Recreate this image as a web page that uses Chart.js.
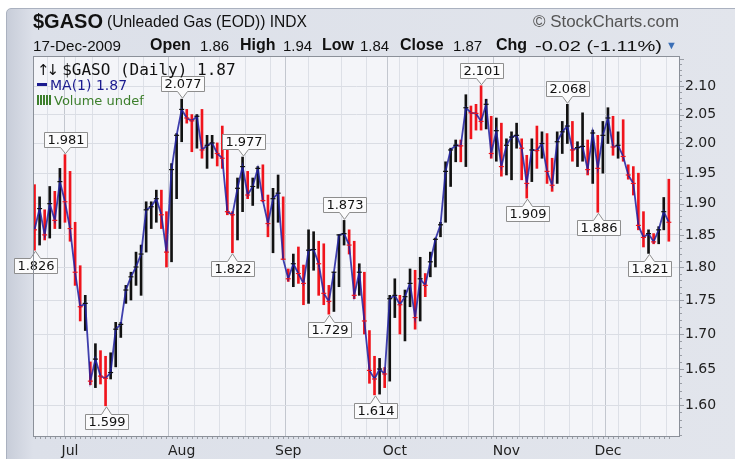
<!DOCTYPE html>
<html>
<head>
<meta charset="utf-8">
<script src="https://cdn.jsdelivr.net/npm/chart.js@4.4.1/dist/chart.umd.min.js"></script>
<style>
  body { margin: 0; background: #fff; }
  #wrap {
    position: relative; width: 735px; height: 459px; overflow: hidden; background: #fff;
    font-family: "Liberation Sans", Arial, sans-serif; color: #111;
  }
  #panel {
    position: absolute; left: 6px; top: 8px; width: 740px; height: 460px;
    border: 1px solid #aab1bf; border-radius: 5px 0 0 0;
    background: linear-gradient(90deg, #c8cdd9 0px, #dce0e9 26px, #e2e5ec 100%);
  }
  #chart { position: absolute; left: 0; top: 0; }
  .t { position: absolute; white-space: nowrap; transform-origin: 0 0; }
  .b { font-weight: bold; }
  .legend { position: absolute; left: 37px; top: 60px; font-family: "DejaVu Sans", Verdana, sans-serif; }
  .legend div { white-space: nowrap; height: 16.5px; }
  .ico-ud { font-family: "DejaVu Sans", sans-serif; font-size: 15px; letter-spacing: -3px; margin-right: 6px; }
  .ico-ma { display: inline-block; width: 10px; height: 3px; background: #1b1b8f; vertical-align: 4px; margin-right: 3px; }
  .ico-vol { display: inline-block; width: 14px; height: 10px; margin-right: 3px;
    background: repeating-linear-gradient(90deg, #3d7f2c 0 2px, transparent 2px 3px); }
</style>
</head>
<body>
<div id="wrap">
  <div id="panel"></div>
  <canvas id="chart" width="735" height="459"></canvas>

  <span class="t b" style="left:33px; top:10px; font-size:20px;">$GASO</span>
  <span class="t" data-w="200" style="left:107px; top:13px; font-size:16px;">(Unleaded Gas (EOD)) INDX</span>
  <span class="t" data-w="146" style="left:533px; top:13px; font-size:16px; color:#555;">© StockCharts.com</span>

  <span class="t" data-w="88" style="left:33px; top:37px; font-size:15px;">17-Dec-2009</span>
  <span class="t b" style="left:150px; top:36px; font-size:16px;">Open</span>
  <span class="t" style="left:200px; top:37px; font-size:15px;">1.86</span>
  <span class="t b" style="left:240px; top:36px; font-size:16px;">High</span>
  <span class="t" style="left:283px; top:37px; font-size:15px;">1.94</span>
  <span class="t b" style="left:322px; top:36px; font-size:16px;">Low</span>
  <span class="t" style="left:360px; top:37px; font-size:15px;">1.84</span>
  <span class="t b" style="left:400px; top:36px; font-size:16px;">Close</span>
  <span class="t" style="left:453px; top:37px; font-size:15px;">1.87</span>
  <span class="t b" style="left:496px; top:36px; font-size:16px;">Chg</span>
  <span class="t" data-w="127" style="left:535px; top:37px; font-size:15px;">-0.02 (-1.11%)</span>
  <span class="t" style="left:666px; top:39px; font-size:11px; color:#3b6fb6;">▼</span>

  <div class="legend">
    <div style="font-family:'DejaVu Sans Mono', monospace; font-size:16px;"><span class="ico-ud">↑↓</span>$GASO (Daily) 1.87</div>
    <div style="color:#1b1b8f; font-size:14px;"><span class="ico-ma"></span>MA(1) 1.87</div>
    <div style="color:#3d7f2c; font-size:13px;"><span class="ico-vol"></span>Volume undef</div>
  </div>
</div>

<script>
// daily high / low / close, 22-Jun-2009 .. 17-Dec-2009
const highs = [
  1.931, 1.911, 1.890, 1.928, 1.920, 1.958, 1.981, 1.953, 1.870, 1.802,
  1.757, 1.660, 1.686, 1.676, 1.668, 1.673, 1.717, 1.717, 1.772, 1.792,
  1.823, 1.834, 1.903, 1.903, 1.922, 1.922, 1.887, 1.966, 2.017, 2.077,
  2.059, 2.050, 2.050, 2.059, 2.014, 2.014, 2.001, 2.030, 1.992, 1.887,
  1.942, 1.977, 1.953, 1.942, 1.961, 1.964, 1.914, 1.925, 1.947, 1.911,
  1.797, 1.820, 1.831, 1.803, 1.858, 1.855, 1.840, 1.836, 1.772, 1.792,
  1.850, 1.873, 1.858, 1.840, 1.805, 1.792, 1.705, 1.668, 1.665, 1.652,
  1.757, 1.782, 1.757, 1.765, 1.797, 1.795, 1.815, 1.790, 1.823, 1.845,
  1.870, 1.969, 1.992, 2.006, 2.006, 2.085, 2.065, 2.068, 2.101, 2.077,
  2.047, 2.044, 2.035, 2.008, 2.020, 2.035, 2.008, 1.980, 2.008, 2.030,
  2.020, 2.017, 1.975, 2.020, 2.038, 2.068, 2.038, 2.003, 2.053, 2.006,
  2.023, 2.014, 2.038, 2.062, 2.047, 2.020, 2.041, 1.964, 1.961, 1.950,
  1.887, 1.858, 1.852, 1.863, 1.910, 1.940
];
const lows = [
  1.826, 1.834, 1.842, 1.845, 1.860, 1.860, 1.870, 1.840, 1.772, 1.719,
  1.705, 1.628, 1.624, 1.629, 1.599, 1.636, 1.653, 1.695, 1.745, 1.750,
  1.772, 1.757, 1.823, 1.860, 1.870, 1.860, 1.800, 1.808, 1.908, 2.003,
  2.035, 1.986, 1.992, 1.975, 1.958, 1.975, 1.962, 1.958, 1.882, 1.822,
  1.842, 1.887, 1.908, 1.897, 1.925, 1.903, 1.847, 1.822, 1.870, 1.812,
  1.778, 1.770, 1.775, 1.743, 1.745, 1.795, 1.757, 1.743, 1.729, 1.733,
  1.770, 1.834, 1.820, 1.752, 1.757, 1.700, 1.630, 1.614, 1.615, 1.624,
  1.633, 1.724, 1.700, 1.690, 1.740, 1.707, 1.719, 1.755, 1.785, 1.800,
  1.847, 1.870, 1.928, 1.969, 1.969, 1.961, 2.008, 2.023, 2.023, 2.025,
  1.975, 1.970, 1.945, 1.947, 1.939, 1.992, 1.939, 1.909, 1.936, 1.958,
  1.975, 1.933, 1.920, 1.933, 1.983, 2.000, 1.970, 1.961, 1.970, 1.947,
  1.933, 1.886, 1.950, 2.000, 1.980, 1.975, 1.970, 1.940, 1.914, 1.858,
  1.831, 1.821, 1.836, 1.836, 1.858, 1.840
];
const closes = [
  1.858, 1.892, 1.850, 1.900, 1.873, 1.936, 1.903, 1.860, 1.792, 1.740,
  1.745, 1.633, 1.664, 1.640, 1.637, 1.645, 1.707, 1.714, 1.765, 1.785,
  1.800, 1.820, 1.890, 1.895, 1.908, 1.882, 1.823, 1.956, 2.014, 2.059,
  2.044, 2.039, 2.047, 1.989, 1.997, 2.001, 1.983, 1.975, 1.887, 1.882,
  1.925, 1.961, 1.914, 1.928, 1.958, 1.905, 1.868, 1.908, 1.917, 1.812,
  1.782, 1.805, 1.790, 1.775, 1.826, 1.827, 1.805, 1.760, 1.748, 1.792,
  1.850, 1.852, 1.834, 1.757, 1.792, 1.719, 1.648, 1.636, 1.650, 1.643,
  1.752, 1.757, 1.743, 1.755, 1.775, 1.724, 1.782, 1.772, 1.808, 1.843,
  1.866, 1.953, 1.989, 1.997, 1.996, 2.062, 2.053, 2.052, 2.038, 2.068,
  1.983, 2.022, 1.961, 1.997, 2.011, 2.014, 1.992, 1.933, 1.989, 1.988,
  2.000, 1.953, 1.930, 2.003, 2.020, 2.030, 1.989, 1.993, 1.995, 1.956,
  2.018, 1.958, 2.014, 2.044, 1.994, 1.997, 1.978, 1.947, 1.933, 1.865,
  1.846, 1.852, 1.839, 1.858, 1.887, 1.870
];

const firstDay = "2009-06-22";
const lastDay = "2009-12-17";
const holidays = ["2009-07-03", "2009-09-07", "2009-11-26"];
const monthNames = ["Jan", "Feb", "Mar", "Apr", "May", "Jun", "Jul", "Aug", "Sep", "Oct", "Nov", "Dec"];
const yTicks = [1.60, 1.65, 1.70, 1.75, 1.80, 1.85, 1.90, 1.95, 2.00, 2.05, 2.10];

// bars that get a value callout
const highMarks = [6, 29, 41, 61, 88, 105];
const lowMarks = [0, 14, 39, 58, 67, 97, 111, 121];

// trading days
const dates = [];
for (let d = new Date(firstDay + "T12:00:00Z"); d <= new Date(lastDay + "T12:00:00Z"); d.setUTCDate(d.getUTCDate() + 1)) {
  const dow = d.getUTCDay();
  if (dow === 0 || dow === 6 || holidays.includes(d.toISOString().slice(0, 10))) continue;
  dates.push(new Date(d));
}
const monthStart = {};
const gridIdx = [];
dates.forEach((d, i) => {
  if (i > 0 && d.getUTCMonth() !== dates[i - 1].getUTCMonth()) monthStart[i] = monthNames[d.getUTCMonth()];
  if (d.getUTCDay() === 1 || monthStart[i]) gridIdx.push(i);
});

const RED = "#f0141c", BLACK = "#111";
const barColors = closes.map((c, i) => (i > 0 && c >= closes[i - 1]) ? BLACK : RED);

const plotFrame = {
  id: "plotFrame",
  beforeDraw(chart) {
    const { ctx, chartArea: a } = chart;
    ctx.save();
    ctx.fillStyle = "#f4f5f9";
    ctx.fillRect(a.left, a.top, a.right - a.left, a.bottom - a.top);
    ctx.restore();
  },
  afterDraw(chart) {
    const { ctx, chartArea: a, scales: { x, y } } = chart;
    ctx.save();
    ctx.strokeStyle = "#8b9099";
    ctx.lineWidth = 1;
    ctx.strokeRect(a.left + 0.5, a.top + 0.5, a.right - a.left - 1, a.bottom - a.top - 1);
    // small ticks along bottom and right edges
    ctx.strokeStyle = "#9a9ea6";
    ctx.beginPath();
    for (let i = 0; i < closes.length; i++) {
      const px = Math.round(x.getPixelForValue(i)) + 0.5;
      ctx.moveTo(px, a.bottom); ctx.lineTo(px, a.bottom + 2);
    }
    for (let v = 156; v <= 215; v++) {
      const py = Math.round(y.getPixelForValue(v / 100)) + 0.5;
      if (py < a.top || py > a.bottom) continue;
      ctx.moveTo(a.right, py); ctx.lineTo(a.right + (v % 5 === 0 ? 4 : 2), py);
    }
    ctx.stroke();
    ctx.restore();
  }
};

const callouts = {
  id: "callouts",
  afterDatasetsDraw(chart) {
    const { ctx, scales: { x, y } } = chart;
    ctx.save();
    ctx.font = '13px "DejaVu Sans", Verdana, sans-serif';
    ctx.lineWidth = 1;
    const draw = (i, val, above) => {
      const px = Math.round(x.getPixelForValue(i)) + 0.5;
      const py = y.getPixelForValue(val);
      const txt = val.toFixed(3);
      const w = Math.round(ctx.measureText(txt).width) + 6, h = 15;
      const left = Math.max(Math.round(px - w / 2) + 0.5, 8.5);
      const edge = above ? Math.round(py - 8) + 0.5 : Math.round(py + 8) + 0.5;
      const tip = above ? py - 1 : py + 1;
      const top = above ? edge - h : edge;
      const far = above ? top : top + h;
      ctx.beginPath();
      ctx.moveTo(left, far);
      ctx.lineTo(left + w, far);
      ctx.lineTo(left + w, edge);
      ctx.lineTo(px + 5, edge);
      ctx.lineTo(px, tip);
      ctx.lineTo(px - 5, edge);
      ctx.lineTo(left, edge);
      ctx.closePath();
      ctx.fillStyle = "#fbfbfc";
      ctx.fill();
      ctx.strokeStyle = "#8e8e8e";
      ctx.stroke();
      ctx.fillStyle = "#111";
      ctx.textAlign = "center";
      ctx.textBaseline = "middle";
      ctx.fillText(txt, left + w / 2, top + h / 2 + 1);
    };
    highMarks.forEach(i => draw(i, highs[i], true));
    lowMarks.forEach(i => draw(i, lows[i], false));
    ctx.restore();
  }
};

new Chart(document.getElementById("chart"), {
  type: "bar",
  data: {
    datasets: [
      {
        type: "scatter",
        data: closes.map((c, i) => ({ x: i, y: c })),
        pointStyle: "line",
        pointRadius: 2.5,
        pointBorderWidth: 1.2,
        pointBorderColor: barColors,
        order: 0
      },
      {
        type: "line",
        data: closes.map((c, i) => ({ x: i, y: c })),
        borderColor: "rgba(30,30,160,0.85)",
        borderWidth: 1.8,
        pointRadius: 0,
        tension: 0,
        order: 1
      },
      {
        type: "bar",
        data: closes.map((c, i) => ({ x: i, y: [lows[i], highs[i]] })),
        backgroundColor: barColors,
        barThickness: 2,
        order: 2
      }
    ]
  },
  options: {
    responsive: false,
    animation: false,
    layout: { padding: { left: 33, top: 56, right: 0, bottom: 0 } },
    plugins: { legend: { display: false }, tooltip: { enabled: false } },
    scales: {
      x: {
        type: "linear",
        min: -0.3,
        max: 127.2,
        offset: false,
        afterBuildTicks: s => { s.ticks = gridIdx.map(v => ({ value: v })); },
        afterFit: s => { s.height = 22; },
        ticks: {
          autoSkip: false, maxRotation: 0, padding: 6,
          callback: v => monthStart[v] || "",
          color: "#222", font: { family: "DejaVu Sans", size: 14 }
        },
        grid: {
          drawTicks: false,
          color: c => (c.tick && monthStart[c.tick.value]) ? "#c3c7cf" : "#dde0e7"
        },
        border: { display: false }
      },
      y: {
        type: "logarithmic",
        position: "right",
        min: 1.557,
        max: 2.155,
        afterBuildTicks: s => { s.ticks = yTicks.map(v => ({ value: v })); },
        afterFit: s => { s.width = 55; },
        ticks: {
          padding: 5,
          callback: v => Number(v).toFixed(2),
          color: "#222", font: { family: "DejaVu Sans", size: 14 }
        },
        grid: { drawTicks: false, color: "#dadde4" },
        border: { display: false }
      }
    }
  },
  plugins: [plotFrame, callouts]
});

// squeeze header text to the widths seen in the reference
document.querySelectorAll(".t[data-w]").forEach(el => {
  const w = el.getBoundingClientRect().width;
  el.style.transform = "scaleX(" + (Number(el.dataset.w) / w) + ")";
});
</script>
</body>
</html>
